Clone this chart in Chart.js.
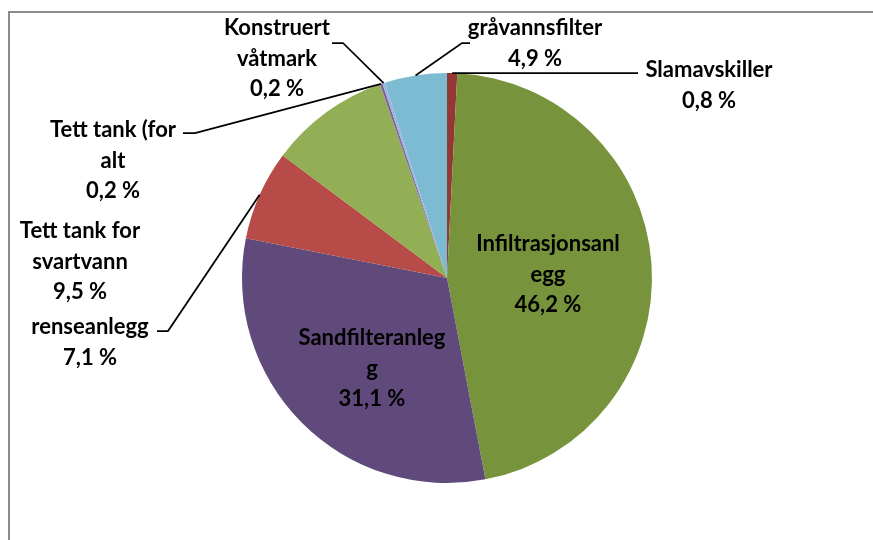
<!DOCTYPE html>
<html>
<head>
<meta charset="utf-8">
<script src="https://cdn.jsdelivr.net/npm/chart.js@4"></script>
<style>
  html, body { margin: 0; padding: 0; background: #fff; }
  #wrap { position: relative; width: 873px; height: 540px; }
</style>
</head>
<body>
<div id="wrap"><canvas id="pie" width="873" height="540"></canvas></div>
<script>
// Slices, clockwise from 12 o'clock
const categories = ['Slamavskiller', 'Infiltrasjonsanlegg', 'Sandfilteranlegg', 'renseanlegg',
  'Tett tank for svartvann', 'Tett tank (for alt', 'Konstruert våtmark', 'gråvannsfilter'];
const shares = [0.8, 46.2, 31.1, 7.1, 9.5, 0.2, 0.2, 4.9];
const labelLines = [
  ['Slamavskiller'],
  ['Infiltrasjonsanl', 'egg'],
  ['Sandfilteranleg', 'g'],
  ['renseanlegg'],
  ['Tett tank for', 'svartvann'],
  ['Tett tank (for', 'alt'],
  ['Konstruert', 'våtmark'],
  ['gråvannsfilter']
];
const colors = ['#953735', '#77933C', '#604A7B', '#B64B48', '#93AF55', '#8064A2', '#9DB3DC', '#7CBBD1'];

// label placement (x = centre of text, y = centre of first line) and leader elbows
const labelPos = [
  { x: 709, y: 70, leader: [[638, 73]] },
  { x: 548, y: 244 },
  { x: 372, y: 338 },
  { x: 90, y: 327, leader: [[157, 331], [168, 331]] },
  { x: 80, y: 231 },
  { x: 113, y: 130, leader: [[183, 133], [195, 133]] },
  { x: 277, y: 28, leader: [[332, 43], [343, 43]] },
  { x: 535, y: 28, leader: [[470, 43], [462, 43]] }
];

const fmt = v => v.toFixed(1).replace('.', ',') + ' %';

const frame = {
  id: 'frame',
  beforeDraw(chart) {
    const c = chart.ctx;
    c.save();
    c.strokeStyle = '#8c8c8c';
    c.lineWidth = 2;
    c.strokeRect(9, 12, 900, 560);
    c.restore();
  }
};

const labels = {
  id: 'labels',
  afterDatasetsDraw(chart) {
    const c = chart.ctx;
    const arcs = chart.getDatasetMeta(0).data;
    c.save();
    arcs.forEach((arc, i) => {
      const p = labelPos[i];
      if (p.leader) {
        const mid = (arc.startAngle + arc.endAngle) / 2;
        const ax = arc.x + Math.cos(mid) * arc.outerRadius;
        const ay = arc.y + Math.sin(mid) * arc.outerRadius;
        c.beginPath();
        c.strokeStyle = '#000';
        c.lineWidth = 1.75;
        c.moveTo(p.leader[0][0], p.leader[0][1]);
        p.leader.slice(1).forEach(pt => c.lineTo(pt[0], pt[1]));
        c.lineTo(ax, ay);
        c.stroke();
      }
      const lines = labelLines[i].concat([fmt(shares[i])]);
      c.fillStyle = '#000';
      c.font = 'bold 22px Lato';
      c.textAlign = 'center';
      c.textBaseline = 'middle';
      lines.forEach((t, k) => c.fillText(t, p.x, p.y + k * 30.5));
    });
    c.restore();
  }
};

new Chart(document.getElementById('pie'), {
  type: 'pie',
  data: {
    labels: categories,
    datasets: [{
      data: shares,
      backgroundColor: colors,
      borderWidth: 0
    }]
  },
  options: {
    responsive: false,
    animation: false,
    layout: { padding: { left: 242, right: 221, top: 73, bottom: 57 } },
    plugins: { legend: { display: false }, tooltip: { enabled: false } }
  },
  plugins: [frame, labels]
});
</script>
</body>
</html>
